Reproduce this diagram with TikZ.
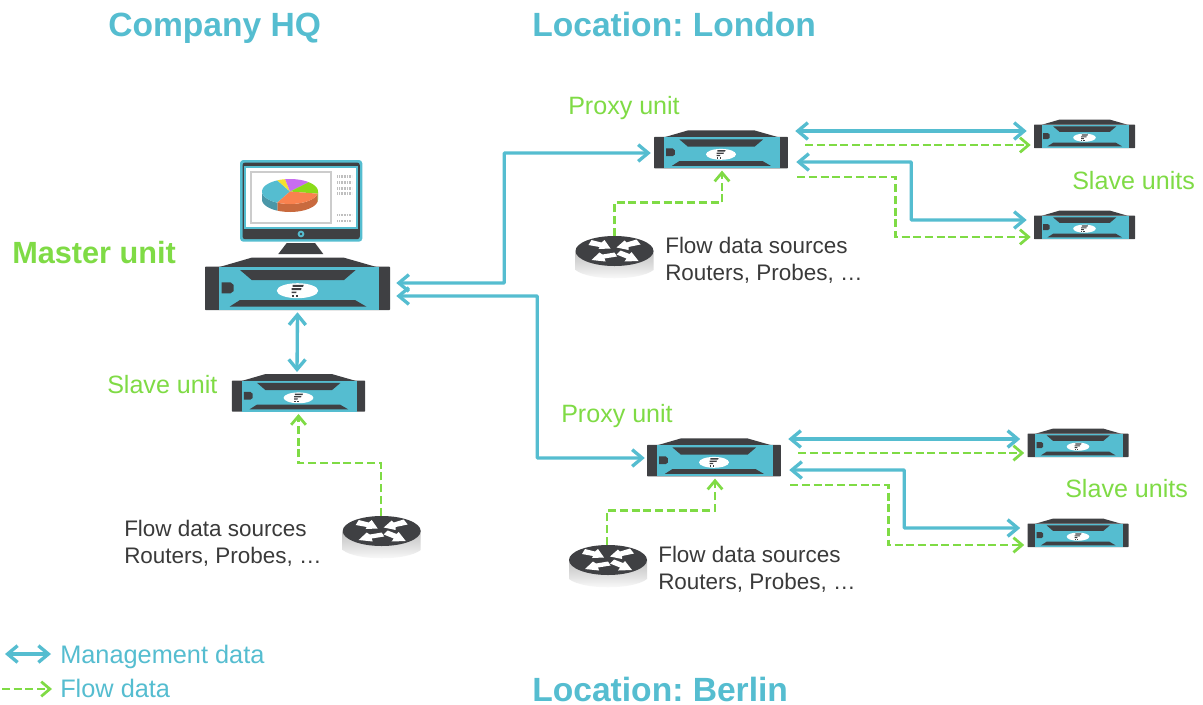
\documentclass[tikz,border=0pt]{standalone}
\usepackage{fontspec}
\setmainfont{Liberation Sans}
\frenchspacing
\usetikzlibrary{arrows.meta}
\definecolor{cy}{HTML}{55BDD0}
\definecolor{gr}{HTML}{7FDB45}
\definecolor{dk}{HTML}{3F4043}
\definecolor{tx}{HTML}{3A3A3A}
\definecolor{pieor}{HTML}{F9824F}
\definecolor{pieors}{HTML}{C96A3E}
\definecolor{piecys}{HTML}{4A97A8}
\definecolor{piemg}{HTML}{C86DF0}
\definecolor{piegr}{HTML}{8ADB1A}
\definecolor{piegrs}{HTML}{6FA81A}
\definecolor{pieye}{HTML}{F5E030}
\tikzset{
 x=0.75pt,y=-0.75pt,
 mgmt/.style={draw=cy,line width=2.5pt,rounded corners=0.5pt,{Straight Barb[length=7.5pt,width=12.5pt,line width=2.5pt]}-{Straight Barb[length=7.5pt,width=12.5pt,line width=2.5pt]}},
 flow/.style={draw=gr,line width=2.05pt,dash pattern=on 6pt off 2.8pt,-{Straight Barb[length=6.5pt,width=11pt,line width=2.05pt]}},
 title/.style={text=cy,font=\fontsize{25.2}{30}\bfseries\selectfont,anchor=base west,inner sep=0},
 master/.style={text=gr,font=\fontsize{23}{28}\bfseries\selectfont,anchor=base west,inner sep=0},
 greenlab/.style={text=gr,font=\fontsize{18.8}{23}\selectfont,anchor=base west,inner sep=0},
 srclab/.style={text=tx,font=\fontsize{16.85}{20}\selectfont,anchor=base west,inner sep=0},
 leglab/.style={text=cy,font=\fontsize{19}{23}\selectfont,anchor=base west,inner sep=0},
}
\newcommand{\serverbox}[4]{%
 \begin{scope}[shift={(#2,#3)},x=#4*0.75pt,y=-#4*0.75pt]
  \fill[dk] (-78,-17) -- (-46,-26.3) -- (46.5,-26.3) -- (79,-17) -- cycle;
  \fill[dk,rounded corners=0.5pt] (-92.5,-17.3) rectangle (92.5,26);
  \fill[cy] (-78.5,-17.3) rectangle (81.5,26);
  \fill[dk] (-57.5,-14) -- (58.2,-14) -- (46.5,-4) -- (-45.8,-4) -- cycle;
  \fill[dk] (-57.5,16) -- (57.5,16) -- (69,22.7) -- (-68,22.7) -- cycle;
  \fill[dk] (-75.8,-1.7) -- (-67,-1.7) -- (-63.8,1) -- (-63.8,7) -- (-67,9.3) -- (-75.8,9.3) -- cycle;
  \fill[white] (0,6.7) ellipse [x radius=20.7,y radius=7.5];
  \fill[dk] (-5,0.8) -- (6.3,0.8) -- (5.5,2.8) -- (-5,2.8) -- cycle;
  \fill[dk] (-6,4.2) -- (4,4.2) -- (3.5,6) -- (-6,6) -- cycle;
  \fill[dk] (-6,7.5) -- (-1,7.5) -- (-1.3,9.2) -- (-6,9.2) -- cycle;
  \fill[dk] (-6,10.7) rectangle (-4,12.7);
  \fill[dk] (-2,10.7) rectangle (0,12.7);
 \end{scope}
 \node[inner sep=0,minimum width=#4*138.75pt,minimum height=#4*39pt] (#1) at (#2,#3) {};
}
\newcommand{\routerbox}[3]{%
 \begin{scope}[shift={(#2,#3)}]
  \shade[top color=black!24,bottom color=white,middle color=black!13]
    (-39,0) -- (-39,19) .. controls (-25,30) and (25,30) .. (39,19) -- (39,0) -- cycle;
  \fill[dk] (0,0) ellipse [x radius=39,y radius=15];
  \fill[white] (-23,-11) -- (-13,-8.5) -- (-10,-11) -- (-4,-2.5) -- (-16,-2) -- (-15,-4) -- (-26,-6) -- cycle;
  \fill[white] (22,-11.5) -- (26,-6.5) -- (14,-4) -- (14,-1) -- (2,-3.5) -- (10,-10.5) -- (12,-8.5) -- cycle;
  \fill[white] (0,1.5) -- (2.5,5.5) -- (-10,7.5) -- (-9,10.5) -- (-23,9) -- (-15,1.5) -- (-12,3.5) -- cycle;
  \fill[white] (2,3.5) -- (6,-0.5) -- (15,3) -- (17,1) -- (24,10) -- (10,10.5) -- (12,7.5) -- cycle;
 \end{scope}
 \node[inner sep=0,minimum width=58.5pt,minimum height=22.5pt] (#1) at (#2,#3) {};
}
\newcommand{\pieslice}[3]{\fill[#1] (290,191.5) -- plot[domain=#2:#3,samples=16] ({290+28*cos(\x)},{191.5+12.5*sin(\x)}) -- cycle;}
\newcommand{\pieside}[3]{\fill[#1] plot[domain=#2:#3,samples=16] ({290+28*cos(\x)},{191.5+12.5*sin(\x)}) -- plot[domain=#3:#2,samples=16] ({290+28*cos(\x)},{199.5+12.5*sin(\x)}) -- cycle;}
\begin{document}
\begin{tikzpicture}[x=0.75pt,y=-0.75pt]
\useasboundingbox (0,0) rectangle (1203,704);
\fill[white] (0,0) rectangle (1203,704);

% monitor
\fill[cy,rounded corners=2.5pt] (240,160) rectangle (362.3,241.7);
\fill[dk,rounded corners=2pt] (242.5,162.5) rectangle (359.8,239.2);
\fill[cy] (244,166) rectangle (358,228.8);
\fill[white] (245.7,167.5) rectangle (356,227.3);
\draw[black!20,line width=1.5pt] (250.5,172) rectangle (330.5,223);
\fill[cy] (301,234) circle (3.4);
\fill[dk] (301,234) circle (1.3);
\fill[dk] (286.7,243) -- (315,243) -- (323.3,254) -- (278.3,254) -- cycle;
\foreach \yy in {176.7,182.3,188.3,193.7,215,221}
  \draw[black!25,line width=2pt,dash pattern=on 0.8pt off 0.4pt] (337.3,\yy) -- (351.7,\yy);
\pieside{pieors}{10}{117}
\pieside{piegrs}{0}{10}
\pieside{piecys}{117}{180}
\pieslice{cy}{117}{243}
\pieslice{pieye}{243}{260}
\pieslice{piemg}{260}{312}
\pieslice{piegr}{312}{370}
\pieslice{pieor}{10}{117}

% servers
\serverbox{mu}{297.5}{284}{1}
\serverbox{hqs}{298.5}{393}{0.72}
\serverbox{plon}{721}{149.5}{0.724}
\serverbox{pber}{714}{457.5}{0.724}
\serverbox{sl1}{1084.5}{134}{0.546}
\serverbox{sl2}{1084.5}{225}{0.546}
\serverbox{sb1}{1078}{443}{0.546}
\serverbox{sb2}{1078}{533}{0.546}

% routers
\routerbox{rhq}{381.7}{531}
\routerbox{rlon}{614.5}{251}
\routerbox{rber}{608}{560}

% management connectors
\draw[mgmt] ([shift={(6,-1)}]mu.east) -- ++(108,0) |- ([shift={(-3,3.5)}]plon.west);
\draw[mgmt] ([shift={(6,12)}]mu.east) -- ++(141,0) |- ([shift={(-2,0.5)}]pber.west);
\draw[mgmt] ([shift={(0,2)}]mu.south) -- ([shift={(-1.5,-2)}]hqs.north);
\draw[mgmt] ([shift={(7,-18.5)}]plon.east) -- ([shift={(-7,-3)}]sl1.west);
\draw[mgmt] ([shift={(8,12.5)}]plon.east) -- ++(115,0) |- ([shift={(-7,-5)}]sl2.west);
\draw[mgmt] ([shift={(7,-18.5)}]pber.east) -- ([shift={(-7,-4)}]sb1.west);
\draw[mgmt] ([shift={(8,12.5)}]pber.east) -- ++(115,0) |- ([shift={(-7,-5)}]sb2.west);

% flow connectors
\draw[flow] (rhq.north) ++(-0.7,-0.2) -- ++(0,-52.5) -| ([yshift=-1.5pt]hqs.south);
\draw[flow] (rlon.north) -- ++(0,-33) -| ([shift={(1,2)}]plon.south);
\draw[flow] (rber.north) ++(-1,0) -- ++(0,-34) -| ([shift={(1,2)}]pber.south);
\draw[flow] ([shift={(17,-4.5)}]plon.east) -- ([shift={(-3,11)}]sl1.west);
\draw[flow] ([shift={(9,27.5)}]plon.east) -| ([shift={(-138,12)}]sl2.west) -- ([shift={(-3,12)}]sl2.west);
\draw[flow] ([shift={(17,-4.5)}]pber.east) -- ([shift={(-3,10)}]sb1.west);
\draw[flow] ([shift={(9,27.5)}]pber.east) -| ([shift={(-139,12)}]sb2.west) -- ([shift={(-3,12)}]sb2.west);

% text
\node[title] (t1) at (108,36) {Company HQ};
\node[title] (t2) at (532,36) {Location: London};
\node[title] (t3) at (532,701) {Location: Berlin};
\node[master] (m) at (12,263) {Master unit};
\node[greenlab] (l1) at (568,114.5) {Proxy unit};
\node[greenlab] (l2) at (561,422.5) {Proxy unit};
\node[greenlab] (l3) at (107,393) {Slave unit};
\node[greenlab] (l4) at (1072,189) {Slave units};
\node[greenlab] (l5) at (1065,497) {Slave units};
\node[srclab] (s1a) at (124,536) {Flow data sources};
\node[srclab] (s1b) at (124,563) {Routers, Probes, …};
\node[srclab] (s2a) at (665,253) {Flow data sources};
\node[srclab] (s2b) at (665,280) {Routers, Probes, …};
\node[srclab] (s3a) at (658,562) {Flow data sources};
\node[srclab] (s3b) at (658,589) {Routers, Probes, …};
\node[leglab] (k1) at (60,663) {Management data};
\node[leglab] (k2) at (60,697) {Flow data};
\coordinate (k1a) at (5,654);
\coordinate (k1b) at (51,654);
\coordinate (k2a) at (2,689);
\coordinate (k2b) at (52,689);
\draw[mgmt] (k1a) -- (k1b);
\draw[flow] (k2a) -- (k2b);
\end{tikzpicture}
\end{document}
